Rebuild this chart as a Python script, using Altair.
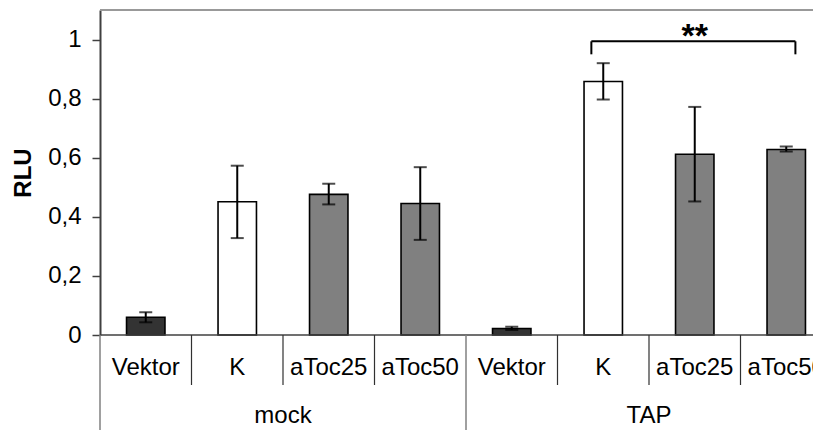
import altair as alt
import pandas as pd

groups = ["mock", "mock", "mock", "mock", "TAP", "TAP", "TAP", "TAP"]
categories = ["Vektor", "K", "aToc25", "aToc50", "Vektor", "K", "aToc25", "aToc50"]
values = [0.06, 0.451, 0.476, 0.445, 0.022, 0.858, 0.612, 0.628]
err_low = [0.043, 0.328, 0.442, 0.322, 0.017, 0.797, 0.452, 0.621]
err_high = [0.077, 0.573, 0.512, 0.568, 0.028, 0.92, 0.772, 0.638]
group_names = ["mock", "TAP"]
y_ticks = [0, 0.2, 0.4, 0.6, 0.8, 1.0]
sig_label = "**"
sig_y = 0.994
sig_leg = 0.95

FONT = "Liberation Sans"
W_VIEW = 713
W_RANGE = 732
H = 325
FS = 24

keys = [f"{g}-{c}" for g, c in zip(groups, categories)]
df = pd.DataFrame({
    "key": keys, "group": groups, "cat": categories,
    "value": values, "lo": err_low, "hi": err_high,
})
df["gstart"] = [i == 0 or groups[i] != groups[i - 1] for i in range(len(groups))]

xscale = alt.Scale(domain=keys, range=[0, W_RANGE], paddingInner=0, paddingOuter=0)
yscale = alt.Scale(domain=[0, 1.1], nice=False)

X = lambda **kw: alt.X("key:N", scale=xscale, axis=None, **kw)

bars = alt.Chart(df).mark_bar(
    width=alt.RelativeBandSize(0.42), stroke="black", strokeWidth=1.6
).encode(
    x=X(),
    y=alt.Y("value:Q", scale=yscale,
            axis=alt.Axis(values=y_ticks, grid=False, tickSize=8, tickWidth=1.5,
                          tickColor="#404040", domainColor="#404040", domainWidth=2,
                          labelFontSize=FS, labelFont=FONT, labelColor="black",
                          labelPadding=11,
                          labelExpr="replace(format(datum.value, '.1~f'), '.', ',')",
                          title="RLU", titleFont=FONT, titleFontSize=FS,
                          titleFontWeight="bold", titleColor="black",
                          titleAngle=-90, titleX=-77, titleY=H / 2,
                          titleAlign="center", titleBaseline="middle")),
    color=alt.Color("cat:N", scale=alt.Scale(domain=["Vektor", "K", "aToc25", "aToc50"],
                                             range=["#333333", "#ffffff", "#808080", "#808080"]),
                    legend=None),
)

err = alt.Chart(df).mark_rule(color="black", strokeWidth=2).encode(
    x=X(), y=alt.Y("lo:Q", scale=yscale), y2="hi:Q"
)
cap_lo = alt.Chart(df).mark_tick(color="black", size=13, thickness=2).encode(
    x=X(), y=alt.Y("lo:Q", scale=yscale)
)
cap_hi = alt.Chart(df).mark_tick(color="black", size=13, thickness=2).encode(
    x=X(), y=alt.Y("hi:Q", scale=yscale)
)

top_line = alt.Chart(pd.DataFrame({"y": [1.1]})).mark_rule(color="#999999", strokeWidth=2).encode(
    y=alt.Y("y:Q", scale=yscale), x=alt.value(0), x2=alt.value(W_RANGE)
)
base_line = alt.Chart(pd.DataFrame({"y": [0.0]})).mark_rule(color="#404040", strokeWidth=1.5).encode(
    y=alt.Y("y:Q", scale=yscale), x=alt.value(0), x2=alt.value(W_RANGE)
)

cat_sep = alt.Chart(df[~df["gstart"]]).mark_rule(color="#303030", strokeWidth=1.2).encode(
    x=X(bandPosition=0), y=alt.value(H), y2=alt.value(H + 50)
)
grp_sep = alt.Chart(df[df["gstart"]]).mark_rule(color="#808080", strokeWidth=1.5).encode(
    x=X(bandPosition=0), y=alt.value(H), y2=alt.value(H + 100)
)
end_sep = alt.Chart(df.tail(1)).mark_rule(color="#808080", strokeWidth=1.5).encode(
    x=X(bandPosition=1), y=alt.value(H), y2=alt.value(H + 100)
)

cat_text = alt.Chart(df).mark_text(font=FONT, fontSize=FS, color="black", baseline="middle").encode(
    x=X(), y=alt.value(H + 33), text="cat:N"
)
gdf = pd.DataFrame({"key": [f"{g}-aToc25" for g in group_names], "group": group_names})
grp_text = alt.Chart(gdf).mark_text(font=FONT, fontSize=FS, color="black", baseline="alphabetic").encode(
    x=X(bandPosition=0), y=alt.value(H + 88), text="group:N"
)

br = pd.DataFrame({"a": ["TAP-K"], "b": ["TAP-aToc50"], "y": [sig_y], "y0": [sig_leg]})
br_h = alt.Chart(br).mark_rule(color="black", strokeWidth=2).encode(
    x=alt.X("a:N", scale=xscale, axis=None, bandPosition=0.37),
    x2=alt.X2("b:N", bandPosition=0.6),
    y=alt.Y("y:Q", scale=yscale),
)
br_l = alt.Chart(br).mark_rule(color="black", strokeWidth=2).encode(
    x=alt.X("a:N", scale=xscale, axis=None, bandPosition=0.37),
    y=alt.Y("y0:Q", scale=yscale), y2="y:Q",
)
br_r = alt.Chart(br).mark_rule(color="black", strokeWidth=2).encode(
    x=alt.X("b:N", scale=xscale, axis=None, bandPosition=0.6),
    y=alt.Y("y0:Q", scale=yscale), y2="y:Q",
)
sig = alt.Chart(pd.DataFrame({"key": ["TAP-aToc25"], "y": [sig_y], "t": [sig_label]})).mark_text(
    font=FONT, fontSize=34, fontWeight="bold", color="black", baseline="alphabetic", dy=6
).encode(x=X(), y=alt.Y("y:Q", scale=yscale), text="t:N")

chart = alt.layer(
    top_line, bars, err, cap_lo, cap_hi, base_line, cat_sep, grp_sep, end_sep,
    cat_text, grp_text, br_h, br_l, br_r, sig
).properties(
    width=W_VIEW, height=H,
    autosize=alt.AutoSizeParams(type="none"),
    padding={"left": 92, "top": 2, "right": 0, "bottom": 100},
).configure_view(stroke=None)

chart.save("out.html", embed_options={"renderer": "svg", "actions": False})
